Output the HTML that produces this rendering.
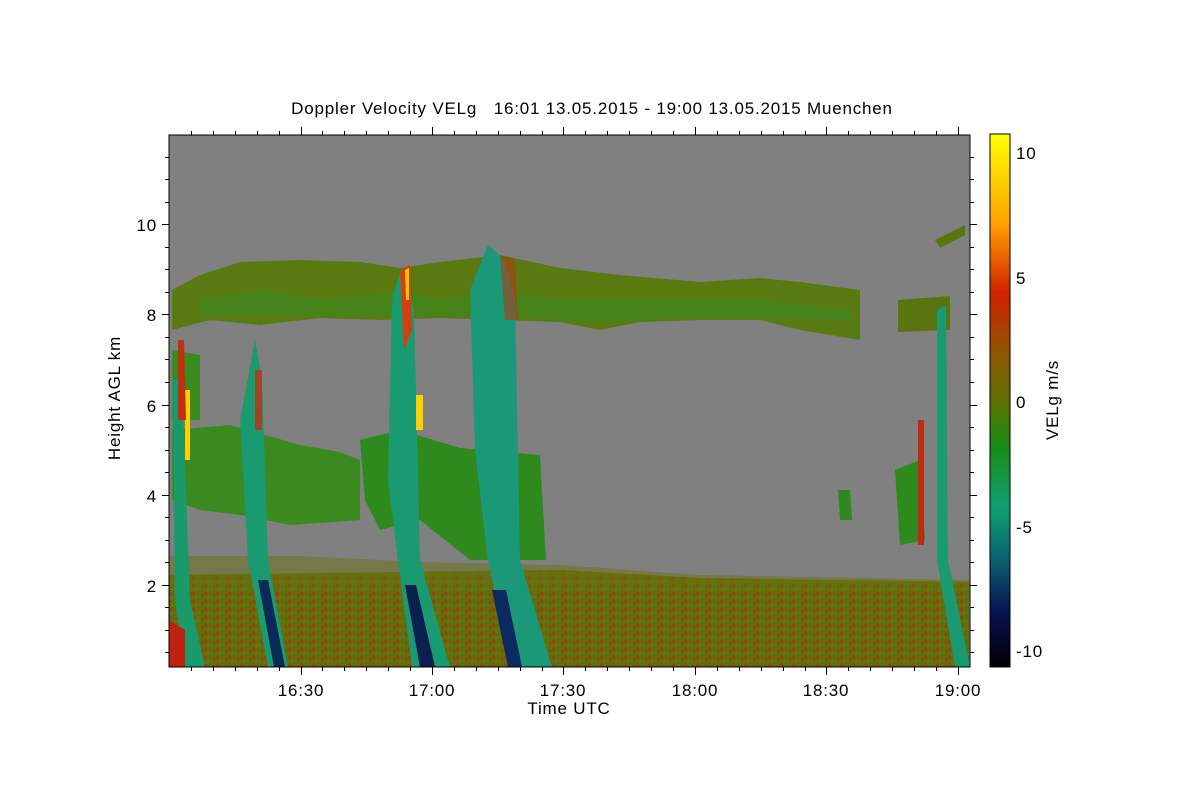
<!DOCTYPE html>
<html><head><style>
body{margin:0;background:#fff;width:1200px;height:800px;overflow:hidden;font-family:"Liberation Sans",sans-serif;}
</style></head><body>
<svg width="1200" height="800" xmlns="http://www.w3.org/2000/svg" font-family="Liberation Sans, sans-serif">
<defs>
<linearGradient id="cb" x1="0" y1="0" x2="0" y2="1">
<stop offset="0" stop-color="#ffff00"/>
<stop offset="0.17" stop-color="#ffa000"/>
<stop offset="0.3" stop-color="#d02000"/>
<stop offset="0.42" stop-color="#8a5a00"/>
<stop offset="0.5" stop-color="#607000"/>
<stop offset="0.58" stop-color="#1a8a10"/>
<stop offset="0.7" stop-color="#10a070"/>
<stop offset="0.8" stop-color="#0a6070"/>
<stop offset="0.9" stop-color="#081050"/>
<stop offset="1" stop-color="#000000"/>
</linearGradient>
<pattern id="bl" width="12" height="8" patternUnits="userSpaceOnUse">
<rect width="12" height="8" fill="#6a6a08"/>
<rect x="0" y="0" width="3" height="3" fill="#9a4010"/>
<rect x="6" y="4" width="3" height="2" fill="#3a8a20"/>
<rect x="9" y="1" width="2" height="3" fill="#7a5010"/>
<rect x="3" y="5" width="2" height="2" fill="#4a8a20"/>
</pattern>
</defs>
<rect x="169" y="135" width="801" height="532" fill="#808080"/>
<path d="M169,575 L400,572 L560,570 L700,578 L969,582 L969,667 L169,667 Z" fill="url(#bl)"/>
<path d="M169,556 L300,556 L420,562 L560,565 L700,575 L969,580 L969,588 L169,588 Z" fill="#6a7010" opacity="0.5"/>
<path d="M172,290 L200,275 L240,262 L300,260 L360,262 L400,268 L440,262 L500,255 L560,268 L620,275 L700,282 L760,278 L800,282 L860,290 L860,340 L800,330 L760,320 L700,320 L640,322 L600,330 L560,322 L500,320 L440,318 L380,320 L320,318 L260,325 L210,320 L172,330 Z" fill="#587a10"/>
<path d="M200,300 L260,290 L330,300 L400,290 L440,300 L500,290 L560,300 L620,300 L700,300 L760,300 L850,310 L850,320 L760,318 L680,318 L600,322 L500,316 L400,316 L300,316 L200,316 Z" fill="#3a8a20" opacity="0.6"/>
<path d="M898,300 L950,296 L950,330 L898,332 Z" fill="#5a7410"/>
<path d="M935,240 L965,225 L965,235 L940,248 Z" fill="#5a7410"/>
<path d="M172,430 L230,425 L300,445 L340,452 L360,460 L360,520 L290,525 L240,515 L200,510 L172,500 Z" fill="#3a8a20"/>
<path d="M360,440 L400,430 L460,448 L540,455 L546,560 L470,560 L420,520 L380,530 L365,500 Z" fill="#2f8a1e"/>
<path d="M895,470 L920,460 L925,540 L900,545 Z" fill="#2f8a1e"/>
<path d="M838,490 L850,490 L852,520 L840,520 Z" fill="#2f8a1e"/>
<path d="M172,350 L200,355 L200,420 L172,420 Z" fill="#3a8a20"/>
<path d="M172,380 L182,380 L190,600 L205,667 L185,667 L175,600 Z" fill="#1a9a6a"/>
<path d="M240,420 L255,340 L262,380 L268,560 L288,667 L268,667 L248,560 Z" fill="#1a9a70"/>
<path d="M258,580 L268,580 L285,667 L274,667 Z" fill="#0a2a5a"/>
<path d="M392,300 L402,265 L414,310 L420,560 L450,667 L412,667 L398,560 L388,480 Z" fill="#1a9a70"/>
<path d="M405,585 L416,585 L435,667 L420,667 Z" fill="#0a2050"/>
<path d="M470,290 L488,245 L505,260 L515,300 L520,560 L552,667 L510,667 L488,560 L475,450 Z" fill="#1a9878"/>
<path d="M492,590 L506,590 L522,667 L508,667 Z" fill="#0a2a60"/>
<path d="M937,310 L946,305 L948,560 L970,667 L955,667 L937,560 Z" fill="#1a9a70"/>
<path d="M400,270 L410,265 L412,330 L404,350 Z" fill="#d04010"/>
<path d="M405,270 L409,268 L409,300 L406,300 Z" fill="#ffc000"/>
<path d="M500,255 L515,260 L518,320 L505,320 Z" fill="#b03a10" opacity="0.6"/>
<path d="M185,390 L190,390 L190,460 L185,460 Z" fill="#ffd000"/>
<path d="M178,340 L184,340 L186,420 L178,420 Z" fill="#c03010"/>
<path d="M416,395 L423,395 L423,430 L416,430 Z" fill="#ffd000"/>
<path d="M918,420 L924,420 L924,545 L918,545 Z" fill="#c02a10"/>
<path d="M255,370 L262,370 L262,430 L255,430 Z" fill="#c03010" opacity="0.8"/>
<path d="M169,620 L185,630 L185,667 L169,667 Z" fill="#c02010"/>
<rect x="169" y="135" width="801" height="532" fill="none" stroke="#000" stroke-width="1"/>
<g stroke="#000" stroke-width="1">
<line x1="162" y1="224.5" x2="169" y2="224.5"/><line x1="970" y1="224.5" x2="977" y2="224.5"/>
<line x1="162" y1="314.5" x2="169" y2="314.5"/><line x1="970" y1="314.5" x2="977" y2="314.5"/>
<line x1="162" y1="405.5" x2="169" y2="405.5"/><line x1="970" y1="405.5" x2="977" y2="405.5"/>
<line x1="162" y1="495.5" x2="169" y2="495.5"/><line x1="970" y1="495.5" x2="977" y2="495.5"/>
<line x1="162" y1="585.5" x2="169" y2="585.5"/><line x1="970" y1="585.5" x2="977" y2="585.5"/>
</g>
<g stroke="#000" stroke-width="1">
<path d="M165,157.5H169M165,179.5H169M165,202.5H169M165,247.5H169M165,269.5H169M165,292.5H169M165,337.5H169M165,359.5H169M165,382.5H169M165,427.5H169M165,450.5H169M165,472.5H169M165,517.5H169M165,540.5H169M165,562.5H169M165,607.5H169M165,630.5H169M165,652.5H169"/>
<path d="M970,157.5H974M970,179.5H974M970,202.5H974M970,247.5H974M970,269.5H974M970,292.5H974M970,337.5H974M970,359.5H974M970,382.5H974M970,427.5H974M970,450.5H974M970,472.5H974M970,517.5H974M970,540.5H974M970,562.5H974M970,607.5H974M970,630.5H974M970,652.5H974"/>
</g>
<g stroke="#000" stroke-width="1">
<path d="M191.5,667V671M213.5,667V671M235.5,667V671M257.5,667V671M279.5,667V671M301.5,667V671M322.5,667V671M344.5,667V671M366.5,667V671M388.5,667V671M410.5,667V671M432.5,667V671M454.5,667V671M476.5,667V671M498.5,667V671M520.5,667V671M542.5,667V671M563.5,667V671M585.5,667V671M607.5,667V671M629.5,667V671M651.5,667V671M673.5,667V671M695.5,667V671M717.5,667V671M739.5,667V671M761.5,667V671M783.5,667V671M805.5,667V671M826.5,667V671M848.5,667V671M870.5,667V671M892.5,667V671M914.5,667V671M936.5,667V671M958.5,667V671"/>
<path d="M191.5,135V131M213.5,135V131M235.5,135V131M257.5,135V131M279.5,135V131M301.5,135V131M322.5,135V131M344.5,135V131M366.5,135V131M388.5,135V131M410.5,135V131M432.5,135V131M454.5,135V131M476.5,135V131M498.5,135V131M520.5,135V131M542.5,135V131M563.5,135V131M585.5,135V131M607.5,135V131M629.5,135V131M651.5,135V131M673.5,135V131M695.5,135V131M717.5,135V131M739.5,135V131M761.5,135V131M783.5,135V131M805.5,135V131M826.5,135V131M848.5,135V131M870.5,135V131M892.5,135V131M914.5,135V131M936.5,135V131M958.5,135V131"/>
<path d="M301.5,667V675M432.5,667V675M563.5,667V675M695.5,667V675M826.5,667V675M958.5,667V675M301.5,135V127M432.5,135V127M563.5,135V127M695.5,135V127M826.5,135V127M958.5,135V127"/>
</g>
<g font-size="17" fill="#000" letter-spacing="0.8">
<text x="157" y="231" text-anchor="end">10</text>
<text x="157" y="321" text-anchor="end">8</text>
<text x="157" y="412" text-anchor="end">6</text>
<text x="157" y="502" text-anchor="end">4</text>
<text x="157" y="592" text-anchor="end">2</text>
<text x="301" y="696" text-anchor="middle">16:30</text>
<text x="432" y="696" text-anchor="middle">17:00</text>
<text x="563" y="696" text-anchor="middle">17:30</text>
<text x="695" y="696" text-anchor="middle">18:00</text>
<text x="826" y="696" text-anchor="middle">18:30</text>
<text x="958" y="696" text-anchor="middle">19:00</text>
<text x="569" y="714" text-anchor="middle">Time UTC</text>
<text x="120" y="398" text-anchor="middle" transform="rotate(-90 120 398)">Height AGL km</text>
<text x="592" y="114" text-anchor="middle">Doppler Velocity VELg &#160; 16:01 13.05.2015 - 19:00 13.05.2015 Muenchen</text>
</g>
<rect x="990" y="134" width="20" height="533" fill="url(#cb)"/>
<rect x="990" y="134" width="20" height="533" fill="none" stroke="#000"/>
<g font-size="17" fill="#000" letter-spacing="0.8">
<text x="1016" y="159">10</text>
<text x="1016" y="284">5</text>
<text x="1016" y="408">0</text>
<text x="1016" y="533">-5</text>
<text x="1016" y="657">-10</text>
<text x="1058" y="400" text-anchor="middle" transform="rotate(-90 1058 400)">VELg m/s</text>
</g>
</svg>
</body></html>
